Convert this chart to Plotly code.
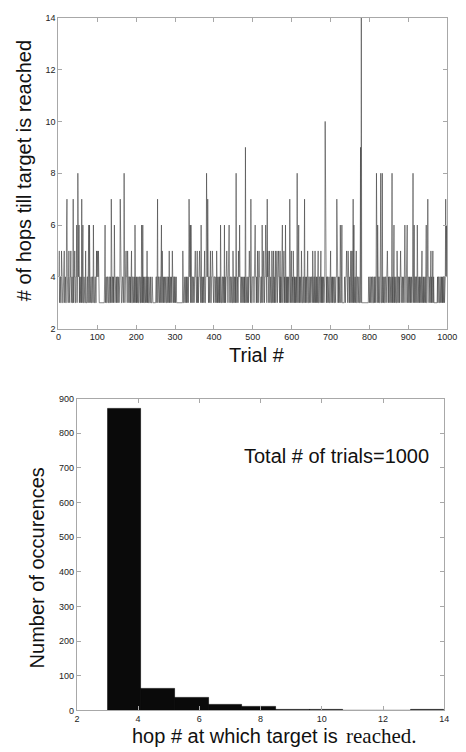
import numpy as np
import plotly.graph_objects as go

# ---------------- data ----------------
# base level (3 or 4 hops) per trial, 20 rows x 50 trials
base_rows = [
    "44344334433344434433434334334443344334344433443343",
    "44334344333443343333333443443443443344344334433443",
    "44333333333333333343344334433443343433443433443343",
    "44344344344334443434344344334434434344334434434434",
    "34344334433434433343343344333433433343334333333333",
    "44344344334434434434344344334434434344344334434434",
    "34433333333333333333333443443434434344334434434434",
    "43443443434434434434344344334434434344344334434434",
    "44344344343443434433443443434344344344343443443344",
    "34434344344334434434434434434344344344343443443344",
    "44344344343443434433443443434344344344343443443344",
    "34434344344334434434343443344334344343434434433443",
    "44344343434434434434344344334434434344344334434434",
    "44344344343443434433443443434344344344343443443344",
    "34434344334334434434343343344333333433443433443343",
    "44344344343443443344344334333333333333333333333433",
    "44344334433434434343443443344334434344334434434343",
    "44344344343443434433443443434344344344343443443344",
    "34434344344334434434434434434344344344343443443344",
    "44344344343443433333333343443344344343434434434344",
]

# trials (1-based) at which the walk needed more hops
trials_5 = [2, 8, 15, 27, 32, 42, 70, 98, 100, 103, 170, 174, 178, 188, 228, 267,
            285, 293, 320, 352, 357, 363, 376, 391, 396, 407, 433, 449, 463, 491,
            512, 516, 528, 539, 543, 549, 553, 558, 562, 566, 570, 580, 599, 604,
            625, 641, 654, 660, 668, 675, 700, 741, 745, 752, 755, 766, 828, 846,
            871, 880, 935, 958, 963]
trials_6 = [21, 47, 53, 63, 78, 80, 90, 120, 144, 197, 214, 217, 265, 339, 341, 367,
            417, 427, 439, 466, 506, 524, 533, 576, 584, 618, 725, 729, 760, 821,
            863, 891, 897, 915, 923, 946, 998]
trials_7 = [22, 38, 60, 136, 159, 255, 336, 384, 495, 537, 595, 633, 716, 758, 950, 996]
trials_8 = [50, 169, 381, 457, 614, 818, 829, 833, 858, 912]
trials_9 = [481, 777]
trials_10 = [686]
trials_14 = [779]

x_ticks_top = [0, 100, 200, 300, 400, 500, 600, 700, 800, 900, 1000]
y_ticks_top = [2, 4, 6, 8, 10, 12, 14]
x_ticks_bot = [2, 4, 6, 8, 10, 12, 14]
y_ticks_bot = [0, 100, 200, 300, 400, 500, 600, 700, 800, 900]
n_bins = 10

# ---------------- build series ----------------
hops = [int(c) for row in base_rows for c in row]
for val, lst in [(5, trials_5), (6, trials_6), (7, trials_7), (8, trials_8),
                 (9, trials_9), (10, trials_10), (14, trials_14)]:
    for t in lst:
        hops[t - 1] = val
trials = list(range(1, len(hops) + 1))

counts, edges = np.histogram(hops, bins=n_bins, range=(min(hops), max(hops)))
centers = (edges[:-1] + edges[1:]) / 2
widths = np.diff(edges)

W, H = 466, 752
def px(x):
    return x / W
def py(y):
    return 1 - y / H

fig = go.Figure()
fig.add_trace(go.Scatter(x=trials, y=hops, mode="lines",
                         line=dict(color="#3c3c3c", width=0.6),
                         xaxis="x", yaxis="y", showlegend=False))
fig.add_trace(go.Bar(x=centers, y=counts, width=widths,
                     marker=dict(color="#0a0a0a", line=dict(color="#000000", width=0.6)),
                     xaxis="x2", yaxis="y2", showlegend=False))

axis_common = dict(showline=True, linecolor="#a8a8a8", linewidth=1, mirror="ticks",
                   ticks="inside", ticklen=4, tickcolor="#a8a8a8", showgrid=False,
                   zeroline=False,
                   tickfont=dict(family="Liberation Sans, Arial", size=9, color="#222"))

fig.update_layout(
    width=W, height=H, margin=dict(l=0, r=0, t=0, b=0),
    paper_bgcolor="white", plot_bgcolor="white",
    xaxis=dict(domain=[px(57), px(457)], range=[0, 1000], tickvals=x_ticks_top,
               anchor="y", **axis_common),
    yaxis=dict(domain=[py(328), py(13)], range=[2, 14], tickvals=y_ticks_top,
               anchor="x", **axis_common),
    xaxis2=dict(domain=[px(76), px(454)], range=[2, 14], tickvals=x_ticks_bot,
                anchor="y2", **axis_common),
    yaxis2=dict(domain=[py(715), py(399)], range=[0, 900], tickvals=y_ticks_bot,
                anchor="x2", **axis_common),
    bargap=0,
)

title_font = dict(family="Liberation Sans, Arial", size=20, color="#111")
serif_font = dict(family="Liberation Serif, Times New Roman, serif", size=21, color="#111")
ann = [
    dict(text="# of hops till target is reached", x=px(21), y=py(168), textangle=-90,
         xanchor="center", font=title_font),
    dict(text="Trial #", x=px(261), y=py(355), xanchor="center", font=title_font),
    dict(text="Number of occurences", x=px(35), y=py(571), textangle=-90,
         xanchor="center", font=title_font),
    dict(text="hop # at which target is", x=px(347), y=py(741), xanchor="right",
         font=title_font),
    dict(text="reached.", x=px(351), y=py(741), xanchor="left", font=serif_font),
    dict(text="Total # of trials=1000", x=px(343), y=py(457), xanchor="center",
         font=title_font),
]
for a in ann:
    fig.add_annotation(xref="paper", yref="paper", showarrow=False,
                       yanchor="middle", **a)

fig.write_html("out.html", config={"displayModeBar": False},
               post_script="document.body.style.margin='0';document.body.style.overflow='hidden';")
